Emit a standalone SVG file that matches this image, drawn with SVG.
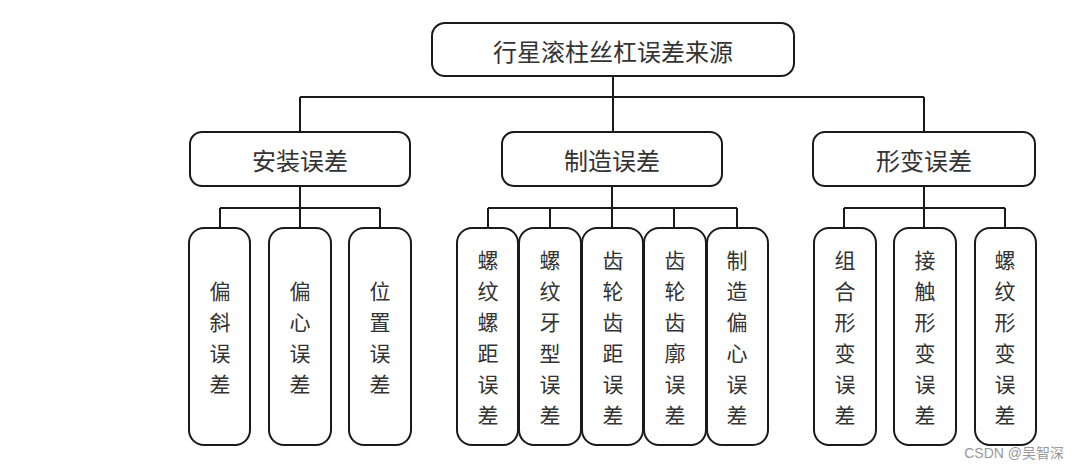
<svg xmlns="http://www.w3.org/2000/svg" width="1080" height="469" viewBox="0 0 1080 469">
<style>
.box{fill:#fff;stroke:#1a1a1a;stroke-width:2}
.t{font-family:"Noto Sans CJK SC","Noto Sans CJK JP",sans-serif;font-size:24px;fill:#333;text-anchor:middle;dominant-baseline:central}
.v{font-family:"Noto Sans CJK SC","Noto Sans CJK JP",sans-serif;font-size:21px;fill:#333;text-anchor:middle;dominant-baseline:central}
.c{fill:none;stroke:#1a1a1a;stroke-width:2}
</style>
<rect width="1080" height="469" fill="#fff"/>
<g id="connectors" class="c">
<path d="M613 76V132M300 97H924M300 97V132M924 97V132"/>
<path d="M300 186V228M220 208H380M220 208V228M380 208V228"/>
<path d="M612 186V228M488 208H737M488 208V228M550 208V228M674 208V228M737 208V228"/>
<path d="M924 186V228M844 208H1005M844 208V228M1005 208V228"/>
</g>
<g id="root"><rect class="box" x="432" y="23" width="362" height="53" rx="13"/><text class="t" x="613" y="50">行星滚柱丝杠误差来源</text></g>
<g id="anzhuang"><rect class="box" x="190" y="132" width="220" height="54" rx="12"/><text class="t" x="300" y="159">安装误差</text></g>
<g id="zhizao"><rect class="box" x="502" y="132" width="220" height="54" rx="12"/><text class="t" x="612" y="159">制造误差</text></g>
<g id="xingbian"><rect class="box" x="813" y="132" width="222" height="54" rx="12"/><text class="t" x="924" y="159">形变误差</text></g>

<g id="n1"><rect class="box" x="189" y="228" width="61" height="217" rx="15"/>
<text class="v" x="220" y="290">偏</text><text class="v" x="220" y="321">斜</text><text class="v" x="220" y="352">误</text><text class="v" x="220" y="383">差</text></g>
<g id="n2"><rect class="box" x="269" y="228" width="62" height="217" rx="15"/>
<text class="v" x="300" y="290">偏</text><text class="v" x="300" y="321">心</text><text class="v" x="300" y="352">误</text><text class="v" x="300" y="383">差</text></g>
<g id="n3"><rect class="box" x="349" y="228" width="62" height="217" rx="15"/>
<text class="v" x="380" y="290">位</text><text class="v" x="380" y="321">置</text><text class="v" x="380" y="352">误</text><text class="v" x="380" y="383">差</text></g>

<g id="n4"><rect class="box" x="457" y="228" width="61" height="217" rx="15"/>
<text class="v" x="488" y="259">螺</text><text class="v" x="488" y="290">纹</text><text class="v" x="488" y="321">螺</text><text class="v" x="488" y="352">距</text><text class="v" x="488" y="383">误</text><text class="v" x="488" y="414">差</text></g>
<g id="n5"><rect class="box" x="519" y="228" width="62" height="217" rx="15"/>
<text class="v" x="550" y="259">螺</text><text class="v" x="550" y="290">纹</text><text class="v" x="550" y="321">牙</text><text class="v" x="550" y="352">型</text><text class="v" x="550" y="383">误</text><text class="v" x="550" y="414">差</text></g>
<g id="n6"><rect class="box" x="582" y="228" width="61" height="217" rx="15"/>
<text class="v" x="613" y="259">齿</text><text class="v" x="613" y="290">轮</text><text class="v" x="613" y="321">齿</text><text class="v" x="613" y="352">距</text><text class="v" x="613" y="383">误</text><text class="v" x="613" y="414">差</text></g>
<g id="n7"><rect class="box" x="644" y="228" width="62" height="217" rx="15"/>
<text class="v" x="675" y="259">齿</text><text class="v" x="675" y="290">轮</text><text class="v" x="675" y="321">齿</text><text class="v" x="675" y="352">廓</text><text class="v" x="675" y="383">误</text><text class="v" x="675" y="414">差</text></g>
<g id="n8"><rect class="box" x="707" y="228" width="61" height="217" rx="15"/>
<text class="v" x="737" y="259">制</text><text class="v" x="737" y="290">造</text><text class="v" x="737" y="321">偏</text><text class="v" x="737" y="352">心</text><text class="v" x="737" y="383">误</text><text class="v" x="737" y="414">差</text></g>

<g id="n9"><rect class="box" x="814" y="228" width="62" height="217" rx="15"/>
<text class="v" x="845" y="259">组</text><text class="v" x="845" y="290">合</text><text class="v" x="845" y="321">形</text><text class="v" x="845" y="352">变</text><text class="v" x="845" y="383">误</text><text class="v" x="845" y="414">差</text></g>
<g id="n10"><rect class="box" x="894" y="228" width="62" height="217" rx="15"/>
<text class="v" x="925" y="259">接</text><text class="v" x="925" y="290">触</text><text class="v" x="925" y="321">形</text><text class="v" x="925" y="352">变</text><text class="v" x="925" y="383">误</text><text class="v" x="925" y="414">差</text></g>
<g id="n11"><rect class="box" x="975" y="228" width="61" height="217" rx="15"/>
<text class="v" x="1005" y="259">螺</text><text class="v" x="1005" y="290">纹</text><text class="v" x="1005" y="321">形</text><text class="v" x="1005" y="352">变</text><text class="v" x="1005" y="383">误</text><text class="v" x="1005" y="414">差</text></g>

<text x="1064" y="458" font-family="'Liberation Sans','Noto Sans CJK SC',sans-serif" font-size="14" fill="#999" text-anchor="end">CSDN @吴智深</text>
</svg>
